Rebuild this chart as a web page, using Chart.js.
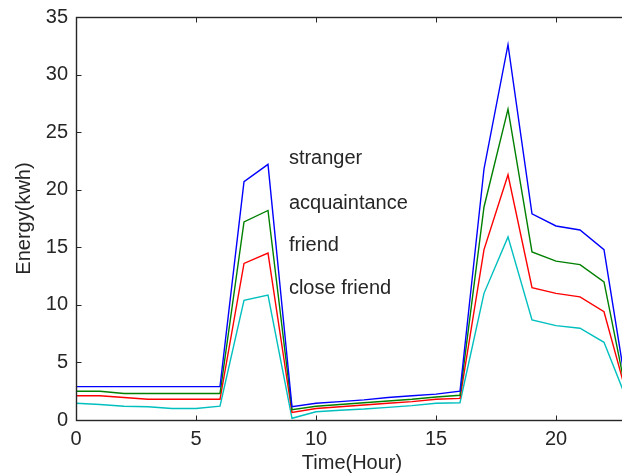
<!DOCTYPE html>
<html>
<head>
<meta charset="utf-8">
<script src="https://cdn.jsdelivr.net/npm/chart.js@4/dist/chart.umd.min.js"></script>
<style>
  html, body { margin: 0; padding: 0; background: #fff; overflow: hidden; width: 622px; height: 476px; }
  canvas { display: block; }
</style>
</head>
<body>
<canvas id="c" width="640" height="476"></canvas>
<script>
// ---- data ----
const hours = [0,1,2,3,4,5,6,7,8,9,10,11,12,13,14,15,16,17,18,19,20,21,22,23];
const seriesNames = ['stranger', 'acquaintance', 'friend', 'close friend'];
const stranger     = [2.9,2.9,2.9,2.9,2.9,2.9,2.9,20.7,22.2,1.15,1.45,1.6,1.75,1.95,2.1,2.25,2.5,21.8,32.6,17.9,16.85,16.5,14.8,1.8];
const acquaintance = [2.5,2.5,2.3,2.3,2.3,2.3,2.3,17.2,18.2,0.9,1.2,1.35,1.5,1.65,1.8,2.0,2.15,18.5,27.0,14.6,13.8,13.5,12.0,1.6];
const friend       = [2.1,2.1,1.95,1.8,1.8,1.8,1.8,13.6,14.5,0.65,1.0,1.15,1.3,1.45,1.6,1.8,1.88,14.8,21.3,11.5,11.0,10.7,9.4,1.8];
const closeFriend  = [1.45,1.35,1.2,1.15,1.0,1.0,1.2,10.4,10.85,0.15,0.72,0.85,0.95,1.1,1.25,1.45,1.5,11.0,15.9,8.7,8.2,7.97,6.75,1.5];
const xTicks = [0,5,10,15,20];
const yTicks = [0,5,10,15,20,25,30,35];

const colors = ['#0000ff', '#008000', '#ff0000', '#00bfbf'];
const values = [stranger, acquaintance, friend, closeFriend];
const FONT = "'Liberation Sans', Arial, sans-serif";
const TXT = '#262626';

// text labels anchored in data coordinates
const labelAnchors = [
  {x: 8.87, y: 22.25},
  {x: 8.87, y: 18.35},
  {x: 8.87, y: 14.7},
  {x: 8.87, y: 10.9}
];

const boxPlugin = {
  id: 'boxTicks',
  afterDatasetsDraw(chart) {
    const {ctx, chartArea: a, scales: {x, y}} = chart;
    ctx.save();
    ctx.strokeStyle = '#262626';
    ctx.lineWidth = 1.4;
    const L = Math.round(a.left) + 0.5, R = Math.round(a.right) + 0.5;
    const T = Math.round(a.top) + 0.5, B = Math.round(a.bottom) + 0.5;
    ctx.strokeRect(L, T, R - L, B - T);
    ctx.lineWidth = 1;
    ctx.beginPath();
    x.ticks.forEach(t => {
      const px = Math.round(x.getPixelForValue(t.value)) + 0.5;
      ctx.moveTo(px, B); ctx.lineTo(px, B - 5);
      ctx.moveTo(px, T); ctx.lineTo(px, T + 5);
    });
    y.ticks.forEach(t => {
      const py = Math.round(y.getPixelForValue(t.value)) + 0.5;
      ctx.moveTo(L, py); ctx.lineTo(L + 5, py);
      ctx.moveTo(R, py); ctx.lineTo(R - 5, py);
    });
    ctx.stroke();
    // series text labels
    ctx.fillStyle = TXT;
    ctx.font = '20px ' + FONT;
    ctx.textAlign = 'left';
    ctx.textBaseline = 'alphabetic';
    seriesNames.forEach((n, i) => {
      ctx.fillText(n, x.getPixelForValue(labelAnchors[i].x), y.getPixelForValue(labelAnchors[i].y));
    });
    ctx.restore();
  }
};

new Chart(document.getElementById('c'), {
  type: 'line',
  data: {
    datasets: values.map((v, i) => ({
      label: seriesNames[i],
      data: hours.map((h, k) => ({x: h, y: v[k]})),
      borderColor: colors[i],
      borderWidth: 1.4,
      pointRadius: 0,
      fill: false,
      tension: 0
    }))
  },
  options: {
    responsive: false,
    animation: false,
    devicePixelRatio: 1,
    layout: { padding: { left: 0, top: 17, right: 12, bottom: 0 } },
    plugins: { legend: { display: false }, tooltip: { enabled: false } },
    scales: {
      x: {
        type: 'linear',
        min: 0, max: 23,
        afterFit(s) { s.height = 56; s.paddingLeft = 0; s.paddingRight = 0; },
        afterBuildTicks(s) { s.ticks = xTicks.map(v => ({value: v})); },
        grid: { display: false, drawTicks: false },
        border: { display: false },
        ticks: { font: { family: FONT, size: 20 }, color: TXT, padding: 7, maxRotation: 0, autoSkip: false },
        title: { display: true, text: 'Time(Hour)', font: { family: FONT, size: 20 }, color: TXT, padding: { top: 0, bottom: 1 } }
      },
      y: {
        type: 'linear',
        min: 0, max: 35,
        afterFit(s) { s.width = 76; s.paddingTop = 0; s.paddingBottom = 0; },
        afterBuildTicks(s) { s.ticks = yTicks.map(v => ({value: v})); },
        grid: { display: false, drawTicks: false },
        border: { display: false },
        ticks: { font: { family: FONT, size: 20 }, color: TXT, padding: 8, autoSkip: false },
        title: { display: true, text: 'Energy(kwh)', font: { family: FONT, size: 20 }, color: TXT, padding: { top: 12, bottom: 0 } }
      }
    }
  },
  plugins: [boxPlugin]
});
</script>
</body>
</html>
